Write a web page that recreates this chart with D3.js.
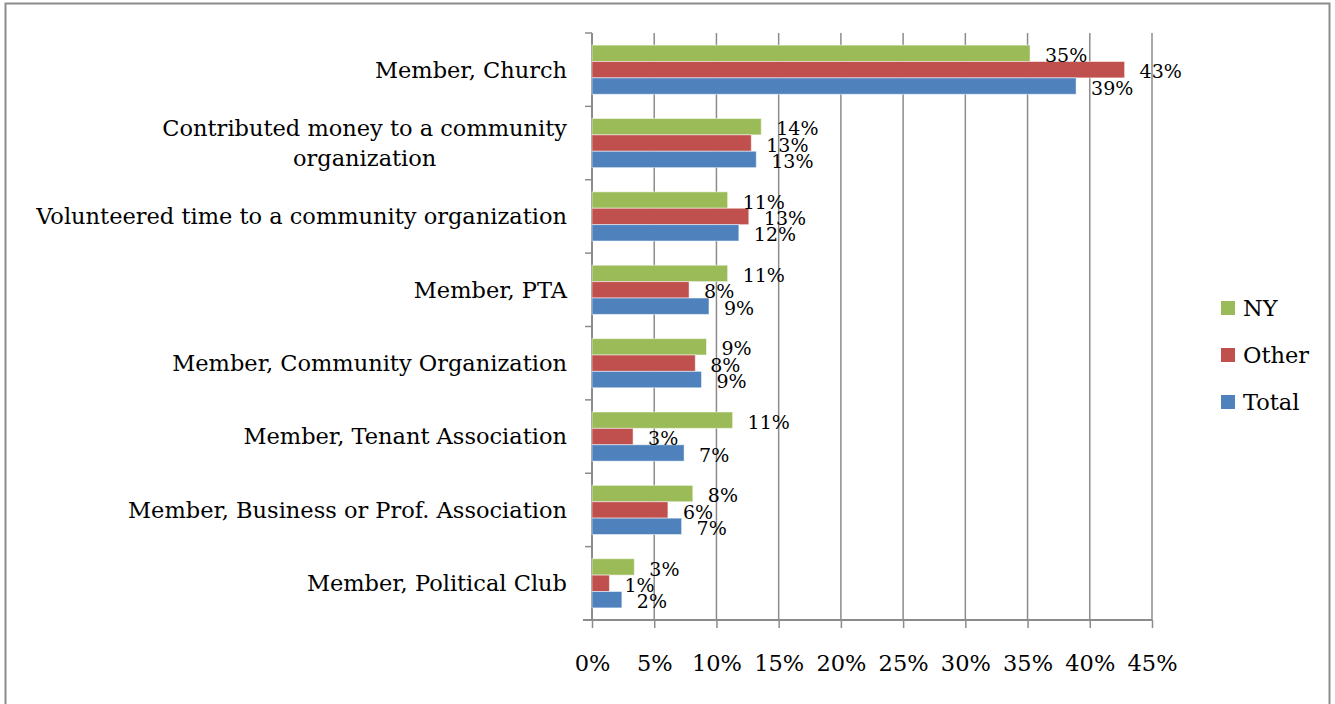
<!DOCTYPE html>
<html>
<head>
<meta charset="utf-8">
<script src="https://cdn.jsdelivr.net/npm/d3@7"></script>
<style>
  html, body { margin: 0; padding: 0; background: #fff; }
  svg { display: block; }
</style>
</head>
<body>
<svg id="chart" width="1335" height="704"></svg>
<script>
// ---- data ----
const categories = [
  ["Member, Church"],
  ["Contributed money to a community", "organization"],
  ["Volunteered time to a community organization"],
  ["Member, PTA"],
  ["Member, Community Organization"],
  ["Member, Tenant Association"],
  ["Member, Business or Prof. Association"],
  ["Member, Political Club"]
];
const seriesNames = ["NY", "Other", "Total"];
const nyValues    = [35.2, 13.6, 10.9, 10.9, 9.2, 11.3, 8.1, 3.4];
const otherValues = [42.8, 12.8, 12.6, 7.8, 8.3, 3.3, 6.1, 1.4];
const totalValues = [38.9, 13.2, 11.8, 9.4, 8.8, 7.4, 7.2, 2.4];
const tickValues  = [0, 5, 10, 15, 20, 25, 30, 35, 40, 45];
const colors = { NY: "#9BBB59", Other: "#C0504D", Total: "#4F81BD" };

const seriesValues = { NY: nyValues, Other: otherValues, Total: totalValues };

// ---- layout ----
const svg = d3.select("#chart");
const plot = { left: 592, right: 1152, top: 33, bottom: 620 };
const serif = "'DejaVu Serif', serif";
const grey = "#8c8c8c";

// outer border
svg.append("rect")
  .attr("x", 5.5).attr("y", 3.5)
  .attr("width", 1324).attr("height", 720)
  .attr("fill", "none").attr("stroke", grey).attr("stroke-width", 2);

const x = d3.scaleLinear().domain([0, 45]).range([plot.left, plot.right]);
const catIdx = categories.map((d, i) => i);
const y = d3.scaleBand().domain(catIdx).range([plot.top, plot.bottom])
  .paddingInner(0.33).paddingOuter(0.165);
const ySub = d3.scaleBand().domain(seriesNames).range([0, y.bandwidth()]);

// gridlines
svg.append("g").selectAll("line").data(tickValues.slice(1)).join("line")
  .attr("x1", d => x(d)).attr("x2", d => x(d))
  .attr("y1", plot.top).attr("y2", plot.bottom)
  .attr("stroke", grey).attr("stroke-width", 1.5);

// x axis
const xAxis = svg.append("g")
  .attr("transform", `translate(0,${plot.bottom})`)
  .call(d3.axisBottom(x).tickValues(tickValues).tickSize(8).tickSizeOuter(0)
    .tickFormat(d => d + "%"));
xAxis.select(".domain").remove();
xAxis.append("line").attr("x1", plot.left - 9).attr("x2", plot.right)
  .attr("stroke", grey).attr("stroke-width", 2);
xAxis.selectAll(".tick line").attr("stroke", grey).attr("stroke-width", 1.5);
xAxis.selectAll(".tick text")
  .attr("y", 43).attr("dy", "0.35em")
  .attr("font-family", serif).attr("font-size", 22.5).attr("fill", "#000");

// y axis line + ticks between categories
svg.append("line").attr("x1", plot.left).attr("x2", plot.left)
  .attr("y1", plot.top).attr("y2", plot.bottom)
  .attr("stroke", grey).attr("stroke-width", 2);
const boundaries = d3.range(categories.length + 1).map(i => plot.top + i * y.step());
svg.append("g").selectAll("line").data(boundaries).join("line")
  .attr("x1", plot.left - 7).attr("x2", plot.left)
  .attr("y1", d => d).attr("y2", d => d)
  .attr("stroke", grey).attr("stroke-width", 1.5);

// bars
const groups = svg.append("g").selectAll("g").data(catIdx).join("g")
  .attr("transform", i => `translate(0,${y(i)})`);
groups.selectAll("rect")
  .data(i => seriesNames.map(s => ({ s, v: seriesValues[s][i] })))
  .join("rect")
  .attr("x", x(0))
  .attr("y", d => ySub(d.s))
  .attr("width", d => x(d.v) - x(0))
  .attr("height", ySub.bandwidth())
  .attr("fill", d => colors[d.s])
  .attr("stroke", "#ffffff").attr("stroke-opacity", 0.5).attr("stroke-width", 1);

// data labels
groups.selectAll("text.lbl")
  .data(i => seriesNames.map(s => ({ s, v: seriesValues[s][i] })))
  .join("text").attr("class", "lbl")
  .attr("x", d => x(d.v) + 15)
  .attr("y", d => ySub(d.s) + ySub.bandwidth() / 2 + 2)
  .attr("dy", "0.35em")
  .attr("font-family", serif).attr("font-size", 19).attr("fill", "#000")
  .text(d => Math.round(d.v) + "%");

// category labels
const labelRight = plot.left - 25;
catIdx.forEach(i => {
  const lines = categories[i];
  const cy = y(i) + y.bandwidth() / 2;
  const g = svg.append("g");
  if (lines.length === 1) {
    g.append("text").attr("x", labelRight).attr("y", cy).attr("dy", "0.35em")
      .attr("text-anchor", "end")
      .attr("font-family", serif).attr("font-size", 22.5).attr("fill", "#000")
      .text(lines[0]);
  } else {
    const lh = 30;
    const texts = lines.map((t, k) => g.append("text")
      .attr("y", cy + (k - (lines.length - 1) / 2) * lh).attr("dy", "0.35em")
      .attr("text-anchor", "middle")
      .attr("font-family", serif).attr("font-size", 22.5).attr("fill", "#000")
      .text(t));
    const maxW = d3.max(texts, t => t.node().getComputedTextLength());
    texts.forEach(t => t.attr("x", labelRight - maxW / 2));
  }
});

// legend
const legend = svg.append("g").selectAll("g").data(seriesNames).join("g")
  .attr("transform", (d, k) => `translate(1221,${301 + k * 47})`);
legend.append("rect").attr("width", 14).attr("height", 14)
  .attr("fill", d => colors[d]);
legend.append("text").attr("x", 22).attr("y", 7).attr("dy", "0.35em")
  .attr("font-family", serif).attr("font-size", 22.5).attr("fill", "#000")
  .text(d => d);
</script>
</body>
</html>
